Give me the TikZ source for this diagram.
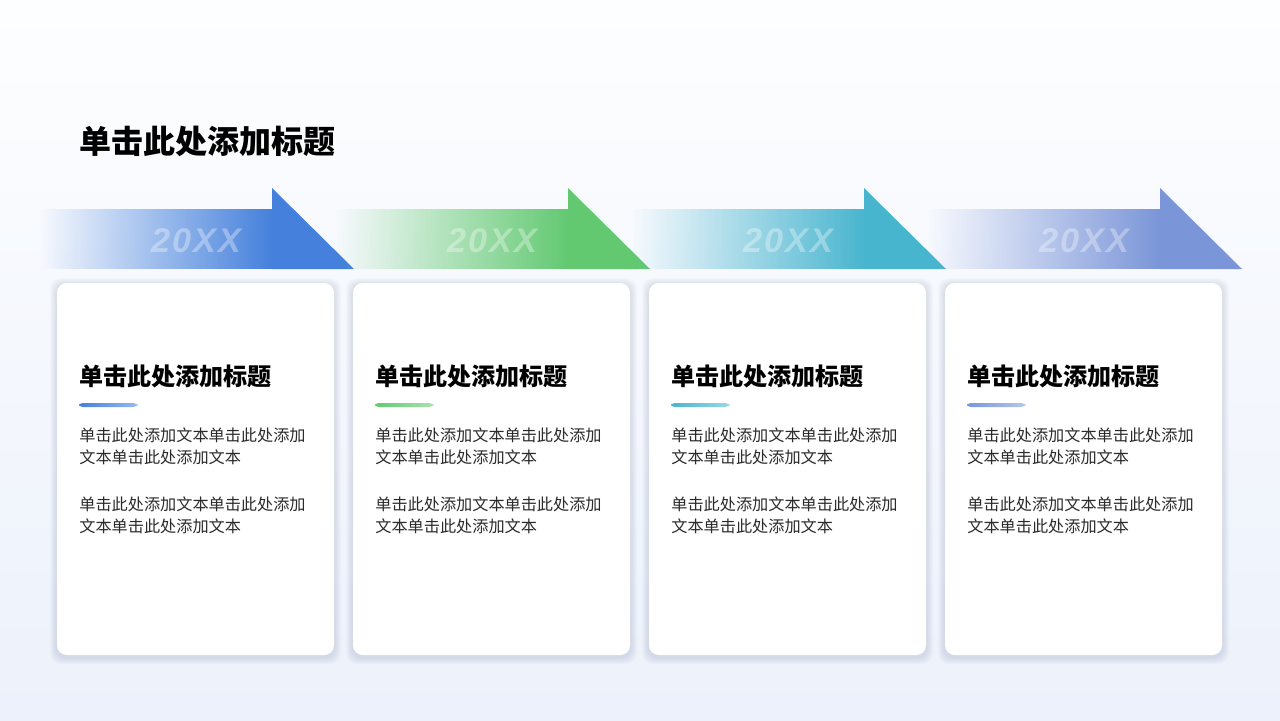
\documentclass[tikz,border=0pt]{standalone}
\usepackage{fontspec}
\usetikzlibrary{fadings}
\newfontfamily\cjk{Noto Sans CJK SC}
\newfontfamily\numfont[LetterSpace=6]{Liberation Sans}
\definecolor{bgtop}{HTML}{FDFEFF}
\definecolor{bgbot}{HTML}{ECF1FB}
\definecolor{cblue}{HTML}{4480DC}
\definecolor{cgreen}{HTML}{62C971}
\definecolor{cteal}{HTML}{48B5CF}
\definecolor{cviolet}{HTML}{7A95D8}
\definecolor{txt}{HTML}{2B2B2B}
\definecolor{shade}{HTML}{6A7590}
\tikzfading[name=fadein, left color=transparent!100, right color=transparent!0]
\tikzset{
  card/.style={fill=white, rounded corners=5.5pt},
  halo/.style={fill=shade, fill opacity=0.028, rounded corners=6pt},
  heading/.style={anchor=west, inner sep=0pt, font=\cjk\bfseries\fontsize{13.7}{16}\selectfont},
  bodyline/.style={anchor=west, inner sep=0pt, text=txt, font=\cjk\fontsize{9.2}{12}\selectfont},
  year/.style={inner sep=0pt, text=white, text opacity=0.33, font=\numfont\bfseries\itshape\fontsize{19.5}{24}\selectfont}
}

\begin{document}
\begin{tikzpicture}[x=0.02cm,y=-0.02cm]
  \useasboundingbox (0,0) rectangle (1280,720);
  \fill[top color=bgtop, bottom color=bgbot] (0,0) rectangle (1280,720);
  \node[anchor=west, inner sep=0pt, font=\cjk\bfseries\fontsize{18.2}{22}\selectfont] (title) at (79,141) {单击此处添加标题};
  \foreach \i/\c in {0/cblue,1/cgreen,2/cteal,3/cviolet}{
    \begin{scope}[shift={(\i*296,0)}]
      % arrow
      \fill[\c, path fading=fadein] (40,209) rectangle (273,269);
      \fill[\c] (272,188) -- (354,269) -- (272,269) -- cycle;
      \node[year] (y\i) at (196,241) {20XX};
      % card
      \foreach \k in {1,...,7}
        \fill[halo] (57-\k,283-\k+2) rectangle (334+\k,655+\k+2);
      \fill[card] (57,283) rectangle (334,655);
      \node[heading] (h\i) at (79,376) {单击此处添加标题};
      \shade[left color=\c, right color=\c!55, rounded corners=2pt] (79,403) rectangle (137,407);
      \node[bodyline] (a\i) at (79,435) {单击此处添加文本单击此处添加};
      \node[bodyline] (b\i) at (79,457) {文本单击此处添加文本};
      \node[bodyline] (c\i) at (79,504) {单击此处添加文本单击此处添加};
      \node[bodyline] (d\i) at (79,526) {文本单击此处添加文本};
    \end{scope}
  }
\end{tikzpicture}
\end{document}
